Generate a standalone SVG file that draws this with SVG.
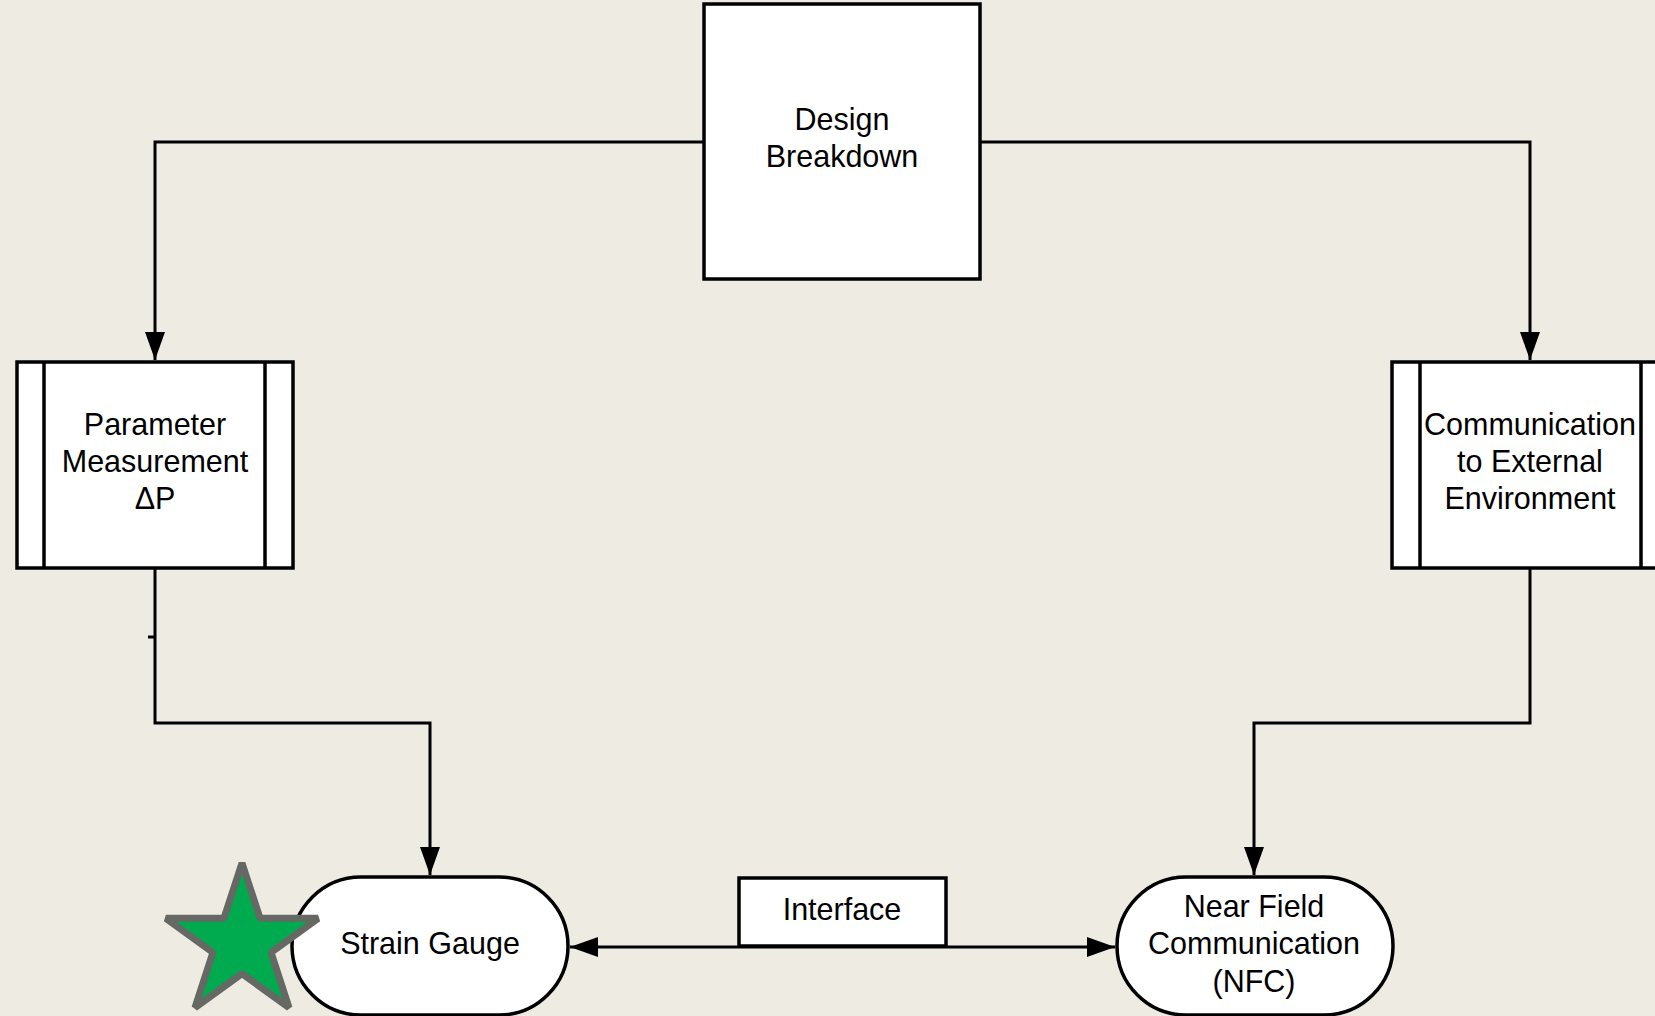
<svg xmlns="http://www.w3.org/2000/svg" width="1655" height="1016" viewBox="0 0 1655 1016">
<defs>
<style>
.box{fill:#ffffff;stroke:#000000;stroke-width:3.5}
.ln{fill:none;stroke:#000000;stroke-width:3.5}
.conn{fill:none;stroke:#000000;stroke-width:3}
.t{font-family:"Liberation Sans",Arial,sans-serif;font-size:30.5px;fill:#000000;text-anchor:middle}
</style>
<marker id="arr" markerWidth="28" markerHeight="20" refX="28" refY="10" orient="auto" markerUnits="userSpaceOnUse">
<path d="M0,0 L28,10 L0,20 Z" fill="#000000"/>
</marker>
</defs>
<rect x="0" y="0" width="1655" height="1016" fill="#EEEBE3"/>
<g id="connectors">
<path class="conn" d="M704,142 H155 V360" marker-end="url(#arr)"/>
<path class="conn" d="M980,142 H1530 V360" marker-end="url(#arr)"/>
<path class="conn" d="M155,568 V723 H430 V875" marker-end="url(#arr)"/>
<path class="conn" d="M148,637 H155"/>
<path class="conn" d="M1530,568 V723 H1254 V875" marker-end="url(#arr)"/>
<path class="conn" d="M1000,947 H1115" marker-end="url(#arr)"/>
<path class="conn" d="M1000,947 H570" marker-end="url(#arr)"/>
</g>
<g id="design-breakdown">
<rect class="box" x="704" y="4" width="276" height="275"/>
<text class="t" x="842" y="130">Design</text>
<text class="t" x="842" y="167">Breakdown</text>
</g>
<g id="parameter-measurement">
<rect class="box" x="17" y="362" width="276" height="206"/>
<line class="ln" x1="44" y1="362" x2="44" y2="568"/>
<line class="ln" x1="265" y1="362" x2="265" y2="568"/>
<text class="t" x="155" y="435">Parameter</text>
<text class="t" x="155" y="472">Measurement</text>
<text class="t" x="155" y="509">ΔP</text>
</g>
<g id="communication-external">
<rect class="box" x="1392" y="362" width="276" height="206"/>
<line class="ln" x1="1420" y1="362" x2="1420" y2="568"/>
<line class="ln" x1="1641" y1="362" x2="1641" y2="568"/>
<text class="t" x="1530" y="435">Communication</text>
<text class="t" x="1530" y="472">to External</text>
<text class="t" x="1530" y="509">Environment</text>
</g>
<g id="strain-gauge">
<rect class="box" x="292" y="877" width="276" height="138" rx="69" ry="69"/>
<text class="t" x="430" y="954">Strain Gauge</text>
</g>
<g id="nfc">
<rect class="box" x="1117" y="877" width="276" height="138" rx="69" ry="69"/>
<text class="t" x="1254" y="917">Near Field</text>
<text class="t" x="1254" y="954">Communication</text>
<text class="t" x="1254" y="992">(NFC)</text>
</g>
<g id="interface">
<rect class="box" x="739" y="878" width="207" height="68"/>
<text class="t" x="842" y="920">Interface</text>
</g>
<g id="star">
<polygon points="242,863 260,918.2 318.1,918.3 271.1,952.5 289,1007.7 242,973.6 195,1007.7 212.9,952.5 165.9,918.3 224,918.2" fill="#00AA4F" stroke="#666963" stroke-width="7" stroke-linejoin="miter" stroke-miterlimit="1"/>
</g>
</svg>
